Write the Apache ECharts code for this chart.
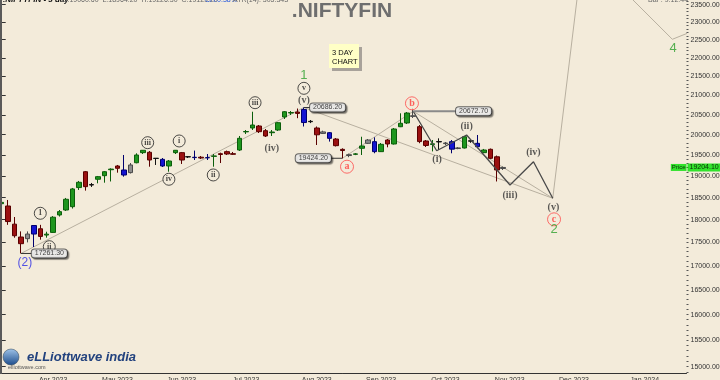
<!DOCTYPE html>
<html><head><meta charset="utf-8">
<script src="https://cdn.jsdelivr.net/npm/echarts@6/dist/echarts.min.js"></script>
<style>html,body{margin:0;padding:0;background:#F3EBDA}#c{width:720px;height:380px}</style>
</head><body><div id="c"></div>
<script>
// ---------- data ----------
const startDate = '2023-03-07';
const barDays = 3;
const barCount = 107;
const monthNames = ['Jan','Feb','Mar','Apr','May','Jun','Jul','Aug','Sep','Oct','Nov','Dec'];
const priceTicks = [15000,15500,16000,16500,17000,17500,18000,18500,19000,19500,20000,20500,21000,21500,22000,22500,23000,23500];
const opens  = [18360,18308,17900,17617,17581,17682,17798,17660,17718,18105,18217,18292,18731,19103,18790,18925,19009,19150,19239,19144,19082,19317,19560,19569,19420,19398,19239,19560,19560,19455,19448,19450,19440,19470,19535,19584,19535,19624,20070,20167,20217,20100,20050,20117,20444,20546,20571,20636,20325,20167,20070,20050,19893,19640,19490,19520,19666,19787,19828,19584,19869,19771,20199,20293,20460,20200,19845,19760,19822,19780,19828,19660,19673,19840,19787,19560,19641,19460,19180];
const closes = [18390,17958,17645,17472,17682,17870,17630,17680,18055,18180,18461,18699,18854,18752,18800,18986,19103,19165,19184,19025,19263,19503,19617,19382,19424,19239,19358,19617,19382,19463,19440,19430,19435,19480,19515,19527,19520,19911,20080,20242,20075,19968,20067,20300,20578,20556,20535,20304,20335,19998,20032,19910,19730,19611,19510,19530,19722,19869,19584,19763,19771,20142,20285,20545,20475,19830,19735,19775,19830,19795,19645,19675,19950,19850,19705,19624,19423,19144,19204.1];
const lows   = [18320,17885,17602,17261.3,17500,17400,17559,17602,17705,18070,18195,18250,18675,18660,18745,18830,18845,18873,19080,18986,19060,19303,19527,19222,19263,19215,19103,19527,19287,19430,19382,19405,19382,19222,19310,19503,19503,19600,20017,20117,20042,19943,19968,20092,20394,20494,20414,20204,20290,19746,20017,19830,19710,19424.2,19450,19500,19503,19771,19545,19576,19690,19758,20190,20267,20419,19790,19697,19590,19624,19746,19544,19643,19661,19800,19667,19552,19405,18873,19144];
const highs  = [18450,18445,18060,17740,17740,17875,17885,17733,18080,18217,18491,18722,18885,19120,18838,19002,19120,19183,19263,19503,19310,19544,19624,19600,19430,19430,19382,19624,19576,19479,19610,19479,19527,19527,19560,19610,19576,19968,20117,20578,20242,20142,20117,20317,20596,20596,20660,20686.2,20368,20205,20100,20067,19918,19665,19536,19550,19950,19893,19935,19795,19893,20167,20538,20571,20672.7,20242,19869,19869,19910,19820,19869,19697,19968,19880,19993,19650,19660,19490,19227];
const kinds  = ['up','dn','dn','dn','gy','bl','dn','up','up','up','up','up','up','dn','bk','up','up','up','dn','bl','gy','up','up','dn','bk','bl','up','up','dn','bk','bl','dn','bl','up','dn','dn','dn','up','up','up','dn','dn','up','up','up','up','dn','bl','bk','dn','gy','bl','dn','dn','gy','up','up','gy','bl','up','dn','up','up','up','gy','dn','dn','up','bk','gy','bl','gy','up','bk','bl','up','dn','dn','gy'];
const lastPrice = 19204.10;

// wave annotations: [text, bar index, price]
const circledMinor = [['1',6.0,18143],['ii',7.4,17407],['iii',22.7,19803],['iv',26.0,18925],['i',27.6,19845],['ii',32.9,19026],['iii',39.4,20810],['v',47,21184]];
const parenMinute  = [['(iv)',42.0,19666],['(v)',47,20879],['(i)',67.7,19400],['(ii)',72.3,20200],['(iii)',79.05,18560],['(iv)',82.7,19568],['(v)',85.8,18269]];
const circledRed   = [['a',53.7,19222],['b',63.8,20794],['c',85.9,18008]];
const primaryNums  = [['1',47,21537],['2',85.9,17776],['4',104.4,22262]];
const intermediate = [['(2)',3.6,17064]];
const waveZigzag   = [[64,20590],[67.65,19607],[72.3,19993],[79.05,18791],[82.7,19341],[85.7,18484]];
const projection   = [[85.7,18484],[90.4,25147],[104.3,22512],[110,22926]];
const channelLines = [
  [[3,17261.3],[47,20686.2]],
  [[47,20686.2],[85.7,18484]],
  [[53,19424.2],[64,20590]],
  [[64,20590],[85.7,18484]]
];
// price callouts: [text, bar of extreme, price, bar of box edge, side]
const callouts = [['17261.30',3,17261.3,4.67,'right'],['20686.20',47,20686.2,47.95,'right'],['19424.20',53,19424.2,51.2,'left'],['20672.70',64,20590,70.65,'right']];

// ---------- build ----------
const categories = [];
const d0 = new Date(startDate + 'T00:00:00Z');
for (let i = 0; i < barCount; i++) {
  categories.push(new Date(d0.getTime() + i * barDays * 86400000).toISOString().slice(0, 10));
}
function firstOfMonthIn(value) {
  const d = new Date(value + 'T00:00:00Z');
  for (let j = 0; j < barDays; j++) {
    const e = new Date(d.getTime() + j * 86400000);
    if (e.getUTCDate() === 1) return e;
  }
  return null;
}
const palette = {
  up: ['#1E961E', '#0B5E0B'], dn: ['#9B1111', '#5A0000'], bl: ['#1414D2', '#00006E'],
  gy: ['#8C8C8C', '#4A4A4A'], bk: ['#222222', '#111111']
};
const candleData = opens.map((o, i) => {
  const c = palette[kinds[i]];
  return { value: [o, closes[i], lows[i], highs[i]],
    itemStyle: { color: c[0], color0: c[0], borderColor: c[1], borderColor0: c[1], borderWidth: 1 } };
});
const minorTicks = [];
for (let v = 14900; v <= 23600; v += 100) minorTicks.push(v);

const YMIN = 14874, YMAX = 23636;
const noEmph = { disabled: true };

const series = [];
series.push({ type: 'candlestick', xAxisIndex: 0, yAxisIndex: 0, barWidth: 5, data: candleData, z: 3, silent: true });
channelLines.forEach(l => series.push({ type: 'line', xAxisIndex: 1, yAxisIndex: 0, data: l, symbol: 'none', silent: true,
  lineStyle: { color: '#B8B0A0', width: 1 }, z: 1, clip: true, emphasis: noEmph }));
series.push({ type: 'line', xAxisIndex: 1, yAxisIndex: 0, data: projection, symbol: 'none', silent: true,
  lineStyle: { color: '#B8B0A0', width: 1 }, z: 1, clip: true, emphasis: noEmph });
series.push({ type: 'line', xAxisIndex: 1, yAxisIndex: 0, data: waveZigzag, symbol: 'none', silent: true,
  lineStyle: { color: '#4A4A4A', width: 1.3 }, z: 4, clip: true, emphasis: noEmph });
callouts.forEach(c => series.push({ type: 'line', xAxisIndex: 1, yAxisIndex: 0, data: [[c[1], c[2]], [c[3], c[2]]], symbol: 'none', silent: true,
  lineStyle: { color: c[0] === '20672.70' ? '#8A8A8A' : '#333', width: c[0] === '20672.70' ? 2 : 1 }, z: 4, emphasis: noEmph }));
series.push({ type: 'scatter', xAxisIndex: 1, yAxisIndex: 0, silent: true, z: 5, emphasis: noEmph,
  symbol: 'circle', symbolSize: 12,
  itemStyle: { color: '#F3EBDA', borderColor: '#222', borderWidth: 1 },
  label: { show: true, position: 'inside', formatter: p => p.data[2], fontFamily: 'Liberation Serif', fontWeight: 'bold', fontSize: 8, color: '#222' },
  data: circledMinor.map(m => [m[1], m[2], m[0]]) });
series.push({ type: 'scatter', xAxisIndex: 1, yAxisIndex: 0, silent: true, z: 5, emphasis: noEmph,
  symbol: 'circle', symbolSize: 13,
  itemStyle: { color: '#F3EBDA', borderColor: '#FF4B4B', borderWidth: 1 },
  label: { show: true, position: 'inside', formatter: p => p.data[2], fontFamily: 'Liberation Serif', fontWeight: 'bold', fontSize: 10, color: '#FF3B3B' },
  data: circledRed.map(m => [m[1], m[2], m[0]]) });
series.push({ type: 'scatter', xAxisIndex: 1, yAxisIndex: 0, silent: true, z: 5, emphasis: noEmph, symbolSize: 0,
  label: { show: true, position: 'inside', formatter: p => p.data[2], fontFamily: 'Liberation Serif', fontWeight: 'bold', fontSize: 10, color: '#333' },
  data: parenMinute.map(m => [m[1], m[2], m[0]]) });
series.push({ type: 'scatter', xAxisIndex: 1, yAxisIndex: 0, silent: true, z: 5, emphasis: noEmph, symbolSize: 0,
  label: { show: true, position: 'inside', formatter: p => p.data[2], fontFamily: 'Liberation Sans', fontSize: 13, color: '#2EA02E' },
  data: primaryNums.map(m => [m[1], m[2], m[0]]) });
series.push({ type: 'scatter', xAxisIndex: 1, yAxisIndex: 0, silent: true, z: 5, emphasis: noEmph, symbolSize: 0,
  label: { show: true, position: 'inside', formatter: p => p.data[2], fontFamily: 'Liberation Sans', fontSize: 12, color: '#2A2AE6' },
  data: intermediate.map(m => [m[1], m[2], m[0]]) });
callouts.forEach(c => series.push({ type: 'scatter', xAxisIndex: 1, yAxisIndex: 0, silent: true, z: 6, emphasis: noEmph, symbolSize: 0,
  label: { show: true, position: c[4], distance: 0, formatter: c[0], fontFamily: 'Liberation Sans', fontSize: 7, color: '#111',
    backgroundColor: '#FFFFFF', borderColor: '#444', borderWidth: 1, borderRadius: 3, padding: [1, 3, 0, 3],
    shadowColor: 'rgba(0,0,0,0.45)', shadowOffsetX: 1.5, shadowOffsetY: 1.5, shadowBlur: 1 },
  data: [[c[3], c[2]]] }));
series.push({ type: 'scatter', xAxisIndex: 1, yAxisIndex: 0, silent: true, z: 6, emphasis: noEmph, symbolSize: 0, clip: false,
  label: { show: true, position: 'right', distance: 1, formatter: lastPrice.toFixed(2), fontFamily: 'Liberation Sans', fontSize: 7, color: '#000',
    backgroundColor: '#00E000', padding: [1, 2, 0, 2] },
  data: [[barCount - 0.5, lastPrice]] });
series.push({ type: 'scatter', xAxisIndex: 1, yAxisIndex: 0, silent: true, z: 6, emphasis: noEmph, symbolSize: 0, clip: false,
  label: { show: true, position: 'left', distance: 0, formatter: 'Price', fontFamily: 'Liberation Sans', fontSize: 6, color: '#000',
    backgroundColor: '#00E000', padding: [1, 1, 0, 1] },
  data: [[barCount - 0.5, lastPrice]] });

const option = {
  backgroundColor: '#F3EBDA',
  animation: false,
  grid: { left: -1.5, right: 33.5, top: 0, bottom: 6.5, containLabel: false, outerBoundsMode: 'none' },
  xAxis: [{
    type: 'category', data: categories, boundaryGap: true,
    axisLine: { lineStyle: { color: '#333', width: 1 } },
    axisTick: { alignWithLabel: true, length: 4, interval: (i, v) => !!firstOfMonthIn(v), lineStyle: { color: '#333' } },
    axisLabel: { interval: (i, v) => !!firstOfMonthIn(v), margin: 3, fontSize: 7, color: '#333', fontFamily: 'Liberation Sans',
      formatter: v => { const e = firstOfMonthIn(v); return e ? monthNames[e.getUTCMonth()] + ' ' + e.getUTCFullYear() : ''; } },
    splitLine: { show: false }
  }, {
    type: 'value', min: -0.5, max: barCount - 0.5, show: false
  }],
  yAxis: [{
    type: 'log', logBase: 10, min: YMIN, max: YMAX, position: 'right',
    axisLine: { show: true, lineStyle: { color: '#333' } },
    axisTick: { show: true, length: 4, customValues: priceTicks, lineStyle: { color: '#333' } },
    axisLabel: { show: true, customValues: priceTicks, margin: 4, fontSize: 7, color: '#333', fontFamily: 'Liberation Sans',
      formatter: v => Number(v).toFixed(2) },
    splitLine: { show: false }, minorTick: { show: false }
  }, {
    type: 'log', logBase: 10, min: YMIN, max: YMAX, position: 'right',
    axisLine: { show: false },
    axisTick: { show: true, length: 2, customValues: minorTicks, lineStyle: { color: '#555' } },
    axisLabel: { show: false }, splitLine: { show: false }
  }],
  series: series,
  graphic: [
    { type: 'rect', shape: { x: 0, y: 0, width: 2, height: 374 }, style: { fill: '#5A5A5A' }, z: 10 },
    { type: 'text', x: 342, y: 11, style: { text: '.NIFTYFIN', font: 'bold 21px "Liberation Sans"', fill: '#6E6E6E', align: 'center', verticalAlign: 'middle' }, z: 10 },
    { type: 'text', x: 3, y: 0, style: { text: '.NIFTYFIN - 3 day', font: 'italic bold 8px "Liberation Sans"', fill: '#111', verticalAlign: 'middle' }, z: 10 },
    { type: 'text', x: 62, y: 0, style: { text: 'O:19060.60  L:18964.20  H:19226.30  C:19129.20', font: '7px "Liberation Sans"', fill: '#666', verticalAlign: 'middle' }, z: 10 },
    { type: 'text', x: 205, y: 0, style: { text: 'CH:0.38%', font: '7px "Liberation Sans"', fill: '#2255DD', verticalAlign: 'middle' }, z: 10 },
    { type: 'text', x: 233, y: 0, style: { text: 'ATR(14): 305.343', font: '7px "Liberation Sans"', fill: '#666', verticalAlign: 'middle' }, z: 10 },
    { type: 'text', x: 648, y: 0, style: { text: 'Bar : 9:12:44', font: '7px "Liberation Sans"', fill: '#666', verticalAlign: 'middle' }, z: 10 },
    { type: 'rect', shape: { x: 332, y: 47, width: 30, height: 24 }, style: { fill: '#A8A29A' }, z: 10 },
    { type: 'rect', shape: { x: 329, y: 44, width: 30, height: 24 }, style: { fill: '#FFFFC6' }, z: 11 },
    { type: 'text', x: 332, y: 48, style: { text: '3 DAY\nCHART', font: '7.5px "Liberation Sans"', fill: '#111', lineHeight: 9 }, z: 12 },
    { type: 'circle', shape: { cx: 11, cy: 357, r: 8 }, style: { fill: { type: 'linear', x: 0, y: 0, x2: 0, y2: 1, colorStops: [{ offset: 0, color: '#9FC3E8' }, { offset: 1, color: '#1C4C8C' }] }, stroke: '#345', lineWidth: 0.5 }, z: 10 },
    { type: 'text', x: 27, y: 357, style: { text: 'eLLiottwave india', font: 'italic bold 13px "Liberation Sans"', fill: '#22427E', verticalAlign: 'middle' }, z: 10 },
    { type: 'text', x: 8, y: 367, style: { text: 'elliottwave.com', font: '5.5px "Liberation Sans"', fill: '#555', verticalAlign: 'middle' }, z: 11 }
  ]
};
const chart = echarts.init(document.getElementById('c'), null, { renderer: 'canvas' });
chart.setOption(option);
</script></body></html>
